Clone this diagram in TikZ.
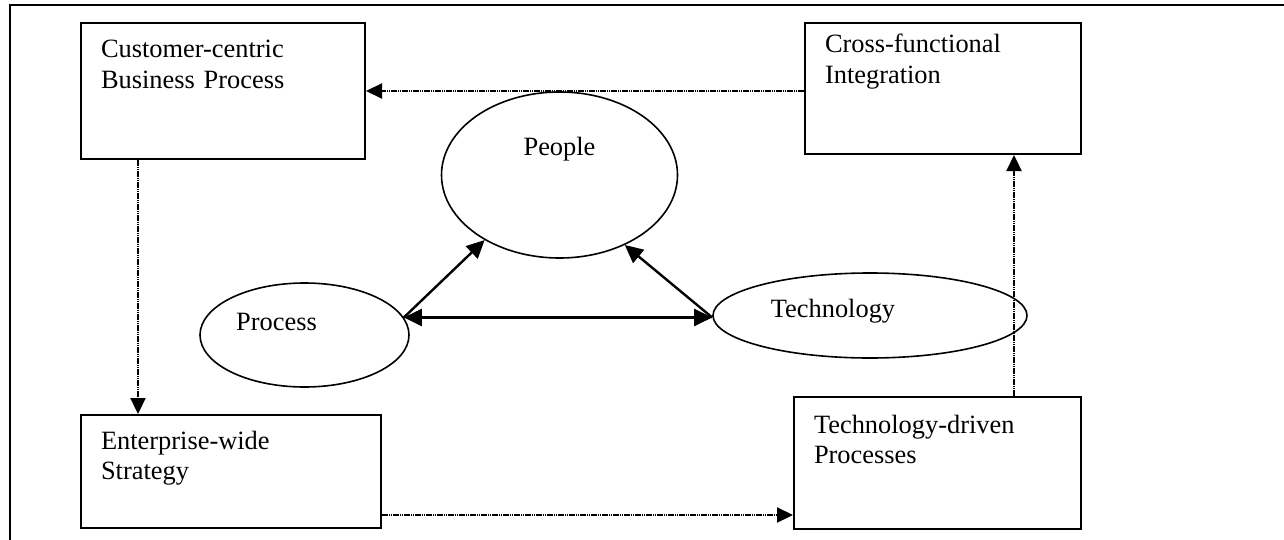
\documentclass[tikz,border=0pt]{standalone}
\usepackage{fontspec}
\setmainfont{Liberation Serif}
\usetikzlibrary{arrows.meta,shapes.geometric}
\tikzset{
  block/.style={draw,line width=1pt,anchor=north west,align=left,
    inner xsep=10pt,inner ysep=0pt,text height=17.5pt},
  blob/.style={ellipse,draw,line width=0.8pt,inner sep=0pt,text height=8.6pt},
  link/.style={-{Triangle[length=8pt,width=7.5pt]},line width=1.1pt,
    dash pattern=on 0.8pt off 0.3pt},
  tie/.style={line width=1.2pt,>={Triangle[length=9pt,width=8.5pt]}}
}

\begin{document}
\begin{tikzpicture}[x=0.5pt,y=-0.5pt,font=\fontsize{13.2}{15.2}\selectfont]
  \useasboundingbox (0,0) rectangle (1284,540);
  % open frame round the figure
  \draw[line width=1.2pt] (10,540) -- (10,5) -- (1284,5);

  % corner blocks
  \node[block,text width=122pt,text depth=50.5pt] (custom) at (80,22)
    {Customer-centric\\Business Process};
  \node[block,text width=118pt,text height=15pt,text depth=50.5pt] (crossfn) at (804,22)
    {Cross-functional\\Integration};
  \node[block,text width=130pt,text height=17pt,text depth=39.5pt] (enterprise) at (80,414)
    {Enterprise-wide\\Strategy};
  \node[block,text width=123.5pt,text height=18pt,text depth=48pt] (techdrv) at (793,396)
    {Technology-driven\\Processes};

  % the three ovals
  \node[blob,minimum width=118pt,minimum height=83pt,text depth=28pt] (people)
    at (559.5,175) {People};
  \node[blob,minimum width=104.5pt,minimum height=52pt,text depth=13pt] (process)
    at (304.5,335) {Process\hspace*{28pt}};
  \node[blob,minimum width=157pt,minimum height=42.5pt,text depth=7pt] (tech)
    at (870,315.5) {Technology\hspace*{37pt}};

  % triangle between the ovals
  \coordinate (pj) at (process.10);
  \coordinate (tj) at (pj -| tech.west);
  \draw[tie,<->] (pj) -- (tj);
  \draw[tie,->] (pj) -- (people.221);
  \draw[tie,->] (tj) -- (people.313);

  % dotted cycle round the blocks
  \coordinate (ccfoot) at ([xshift=29pt]custom.south west);
  \coordinate (ewside) at ([yshift=7pt]enterprise.south east);
  \coordinate (tdhead) at ([xshift=-34pt]techdrv.north east);
  \draw[link] (crossfn.west |- custom.east) -- (custom.east);
  \draw[link] (ccfoot) -- (ccfoot |- enterprise.north);
  \draw[link] (ewside) -- (ewside -| techdrv.west);
  \draw[link] (tdhead) -- (tdhead |- crossfn.south);
\end{tikzpicture}
\end{document}
